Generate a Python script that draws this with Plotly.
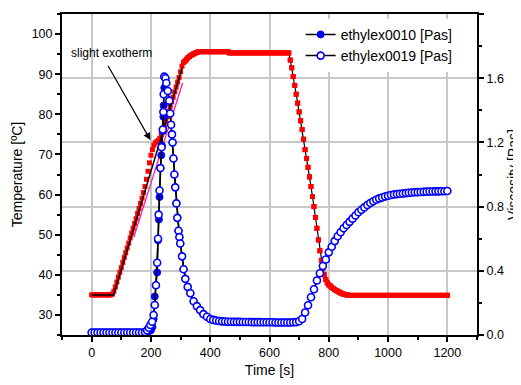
import plotly.graph_objects as go

# ---------------- data ----------------
# Temperature (red squares), sampled every 5 s
temp_red_t = [0, 5, 10, 15, 20, 25, 30, 35, 40, 45, 50, 55, 60, 65,
              70, 75, 80, 85, 90, 95, 100, 105, 110, 115, 120, 125, 130, 135, 140, 145,
              150, 155, 160, 165, 170, 175, 180, 185, 190, 195, 200, 205, 210, 215, 220,
              225, 230, 235, 240, 245, 250, 255, 260, 265, 270, 275, 280, 285, 290, 295,
              300, 305, 310, 315, 320, 325, 330, 335, 340, 345, 350, 355,
              360, 370, 380, 390, 400, 410, 420, 430, 440, 450, 460,
              465, 475, 485, 495, 505, 515, 525, 535, 545, 555, 565, 575, 585, 595, 605,
              615, 625, 635, 645, 655, 665,
              670, 675, 680, 685, 690, 695, 700, 705, 710, 715, 720, 725, 730, 735, 740,
              745, 750, 755, 760, 765, 770, 775, 780, 785, 790, 795, 800, 805, 810, 815,
              820, 825, 830, 835, 840, 845, 850, 855, 860, 865,
              870, 885, 900, 915, 930, 945, 960, 975, 990, 1005, 1020, 1035, 1050, 1065,
              1080, 1095, 1110, 1125, 1140, 1155, 1170, 1185, 1200]
temp_red = [35.0, 35.0, 35.0, 35.0, 35.0, 35.0, 35.0, 35.0, 35.0, 35.0, 35.0, 35.0, 35.0, 35.0,
            35.2, 35.9, 37.0, 38.2, 39.4, 40.6, 41.8, 43.1, 44.3, 45.5, 46.7, 47.9, 49.2, 50.4, 51.6, 52.8,
            54.0, 55.3, 56.5, 57.8, 59.1, 60.5, 62.0, 63.8, 65.8, 67.9, 69.8, 71.2, 72.3, 72.9, 73.2,
            73.5, 74.0, 74.9, 75.9, 77.0, 78.2, 79.4, 80.7, 81.9, 83.1, 84.3, 85.6, 86.8, 88.0, 89.2,
            90.6, 92.0, 92.9, 93.3, 93.7, 94.1, 94.4, 94.7, 94.9, 95.1, 95.3, 95.4,
            95.6, 95.6, 95.6, 95.6, 95.6, 95.6, 95.6, 95.6, 95.6, 95.6, 95.6,
            95.3, 95.3, 95.3, 95.3, 95.3, 95.3, 95.3, 95.3, 95.3, 95.3, 95.3, 95.3, 95.3, 95.3, 95.3,
            95.3, 95.3, 95.3, 95.3, 95.3, 95.3,
            93.5, 91.6, 89.4, 87.2, 85.0, 82.8, 80.6, 78.4, 76.2, 73.8, 71.2, 69.0, 66.8, 64.4, 62.0,
            59.5, 57.0, 54.3, 51.6, 48.7, 46.0, 43.6, 41.6, 40.0, 38.8, 38.0, 37.5, 37.2, 36.9, 36.6,
            36.3, 36.1, 35.9, 35.7, 35.5, 35.3, 35.2, 35.1, 35.0, 34.9,
            34.9, 34.9, 34.9, 34.9, 34.9, 34.9, 34.9, 34.9, 34.9, 34.9, 34.9, 34.9, 34.9, 34.9,
            34.9, 34.9, 34.9, 34.9, 34.9, 34.9, 34.9, 34.9, 34.9]

# Temperature of the other run (black line)
temp_black_t = [0, 74, 306]
temp_black = [35.0, 35.0, 91.7]

# Linear fit line (pink)
fit_t = [142, 307]
fit_T = [49.3, 87.8]

# Viscosity ethylex0019 (open circles)
visc19_t = [0, 10, 20, 30, 40, 50, 60, 70, 80, 90, 100, 110, 120, 130, 140, 150, 160, 170, 180,
            187, 193, 198, 204, 209, 213, 217, 221, 224, 226, 229, 232, 236, 240, 242, 243, 245,
            249, 252, 257, 262, 265, 268, 271, 273, 276, 279, 282, 286, 289, 293, 296, 299,
            305, 310, 316, 324, 333, 344, 355, 366, 377, 389, 400, 410, 420, 430, 440, 450,
            460, 470, 480, 490, 500, 510, 520, 530, 540, 550, 560, 570, 580, 590, 600, 610,
            620, 630, 640, 650, 660, 670, 680,
            690, 700, 710, 720, 730, 740, 750, 760, 770, 780, 790, 800, 810, 820, 830, 840,
            850, 860, 870, 880, 890, 900, 910, 920, 930, 940, 950, 960, 970, 980, 990, 1000,
            1010, 1020, 1030, 1040, 1050, 1060, 1070, 1080, 1090, 1100, 1110, 1120, 1130,
            1140, 1150, 1160, 1170, 1180, 1190, 1200]
visc19 = [0.016, 0.016, 0.016, 0.016, 0.016, 0.016, 0.016, 0.016, 0.016, 0.016, 0.016, 0.016,
          0.016, 0.016, 0.016, 0.016, 0.016, 0.016, 0.018,
          0.03, 0.045, 0.062, 0.083, 0.125, 0.187, 0.31, 0.45, 0.60, 0.75, 0.90, 1.04, 1.17,
          1.28, 1.39, 1.50, 1.61,
          1.60, 1.57, 1.52, 1.46, 1.38, 1.31, 1.25, 1.20, 1.10, 1.00, 0.92, 0.82, 0.73, 0.65,
          0.61, 0.57,
          0.49, 0.41, 0.35, 0.30, 0.26, 0.21, 0.18, 0.155, 0.13, 0.114, 0.10, 0.094, 0.09,
          0.087, 0.085, 0.084,
          0.083, 0.083, 0.082, 0.082, 0.082, 0.081, 0.081, 0.081, 0.080, 0.080, 0.080, 0.080,
          0.079, 0.079, 0.079, 0.079, 0.078, 0.078, 0.078, 0.078, 0.078, 0.078, 0.079,
          0.080, 0.086, 0.10, 0.14, 0.185, 0.235, 0.285, 0.34, 0.385, 0.43, 0.47, 0.515,
          0.55, 0.585, 0.615, 0.64, 0.665, 0.685, 0.705, 0.725, 0.745, 0.765, 0.78, 0.795,
          0.81, 0.822, 0.833, 0.843, 0.851, 0.857, 0.863, 0.868, 0.872, 0.875, 0.878, 0.88,
          0.882, 0.884, 0.886, 0.888, 0.889, 0.89, 0.891, 0.892, 0.893, 0.894, 0.894, 0.895,
          0.895, 0.896, 0.896, 0.897]

# Viscosity ethylex0010 (filled circles): own rise, then the same decay/recovery
visc10_rise_t = [0, 10, 20, 30, 40, 50, 60, 70, 80, 90, 100, 110, 120, 130, 140, 150, 160,
                 170, 180, 190, 200, 205, 209, 213, 217, 221, 224, 227, 229, 232, 235, 237,
                 240, 242, 243, 245]
visc10_rise = [0.016, 0.016, 0.016, 0.016, 0.016, 0.016, 0.016, 0.016, 0.016, 0.016, 0.016,
               0.016, 0.016, 0.016, 0.016, 0.016, 0.016, 0.016, 0.016, 0.02, 0.03, 0.05, 0.10,
               0.24, 0.31, 0.39, 0.59, 0.72, 0.86, 1.04, 1.12, 1.18, 1.27, 1.36, 1.43, 1.54]
tail_start = visc19_t.index(257)
visc10_t = visc10_rise_t + visc19_t[tail_start:]
visc10 = visc10_rise + visc19[tail_start:]

# ---------------- figure ----------------
BLUE = "#0000ff"
RED = "#ff0000"

fig = go.Figure()

fig.add_trace(go.Scatter(x=temp_red_t, y=temp_red, mode="markers",
                         marker=dict(symbol="square", size=5, color=RED, line=dict(width=0)),
                         showlegend=False))
fig.add_trace(go.Scatter(x=temp_black_t, y=temp_black,
                         mode="lines", line=dict(color="black", width=1.5),
                         showlegend=False, hoverinfo="skip"))
fig.add_trace(go.Scatter(x=fit_t, y=fit_T, mode="lines",
                         line=dict(color="#ff1493", width=1.2), showlegend=False))
# black temperature line behind the red squares in the cooling part
fig.add_trace(go.Scatter(x=temp_red_t[62:], y=temp_red[62:], mode="lines",
                         line=dict(color="black", width=1.2),
                         showlegend=False, hoverinfo="skip"))
fig.add_trace(go.Scatter(x=temp_red_t[62:], y=temp_red[62:], mode="markers",
                         marker=dict(symbol="square", size=5, color=RED, line=dict(width=0)),
                         showlegend=False))

fig.add_trace(go.Scatter(x=visc10_t, y=visc10, yaxis="y2", mode="lines+markers",
                         name="ethylex0010 [Pas]",
                         line=dict(color="black", width=1.5),
                         marker=dict(symbol="circle", size=7, color=BLUE,
                                     line=dict(color=BLUE, width=1)),
                         cliponaxis=False))
fig.add_trace(go.Scatter(x=visc19_t, y=visc19, yaxis="y2", mode="lines+markers",
                         name="ethylex0019 [Pas]",
                         line=dict(color="black", width=1.5),
                         marker=dict(symbol="circle", size=7, color="white",
                                     line=dict(color=BLUE, width=1.6)),
                         cliponaxis=False))

fig.add_annotation(x=198, y=73.6, ax=53, ay=92.4, xref="x", yref="y", axref="x", ayref="y",
                   text="", showarrow=True, arrowhead=2, arrowsize=1.2, arrowwidth=1.2,
                   arrowcolor="black")
fig.add_annotation(x=67, y=95.2, xref="x", yref="y", text="slight exotherm",
                   showarrow=False, font=dict(size=12, color="black"))

axis_common = dict(showline=True, linecolor="black", linewidth=2, ticks="outside",
                   ticklen=5, tickwidth=1.5, tickcolor="black", zeroline=False,
                   automargin=False, tickfont=dict(size=12.5, color="black"))

# The page adds an 8 px body margin, so the figure is sized 8 px smaller
fig.update_layout(
    width=513, height=377,
    margin=dict(l=54, r=44, t=6, b=50),
    plot_bgcolor="white", paper_bgcolor="white",
    font=dict(family="Liberation Sans, Arial, sans-serif", size=12, color="black"),
    legend=dict(x=0.575, y=0.985, xanchor="left", yanchor="top", bgcolor="white",
                font=dict(size=14), tracegroupgap=0, itemwidth=30),
    xaxis=dict(range=[-100, 1300], dtick=200, tick0=0, mirror=True,
               showgrid=True, gridcolor="#c8c8c8", gridwidth=1.5,
               minor=dict(dtick=100, ticks="outside", ticklen=3, tickwidth=1.5,
                          tickcolor="black", showgrid=False),
               title=dict(text="Time [s]", font=dict(size=14), standoff=6),
               **axis_common),
    yaxis=dict(range=[25, 105], dtick=10, tick0=0, showgrid=False,
               minor=dict(dtick=5, ticks="outside", ticklen=3, tickwidth=1.5,
                          tickcolor="black", showgrid=False),
               title=dict(text="Temperature [ºC]", font=dict(size=14), standoff=6),
               **axis_common),
    yaxis2=dict(range=[0, 2.0], dtick=0.4, tick0=0, tickformat=".1f", overlaying="y",
                side="right", showgrid=True, gridcolor="#c8c8c8", gridwidth=1.5,
                minor=dict(dtick=0.2, ticks="outside", ticklen=3, tickwidth=1.5,
                           tickcolor="black", showgrid=False),
                title=dict(text="Viscosity [Pas]", font=dict(size=14), standoff=6),
                **axis_common),
)

fig.write_html("out.html")
